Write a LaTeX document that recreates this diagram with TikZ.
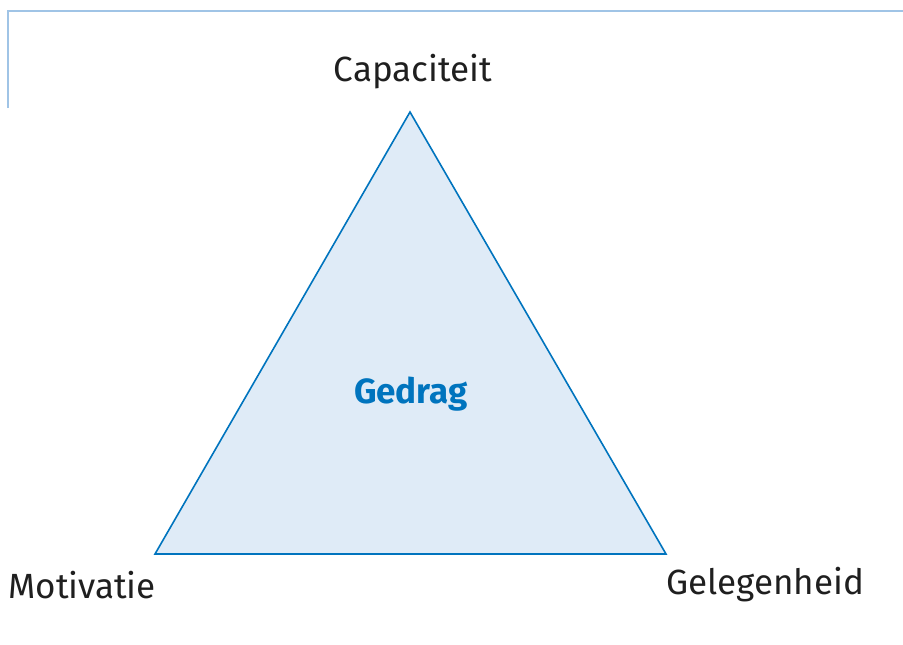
\documentclass[tikz,border=0pt]{standalone}
\usepackage{fontspec}
\setmainfont{Fira Sans}
\usepackage{xcolor}
\definecolor{framelijn}{RGB}{160,196,230}
\definecolor{rijksblauw}{RGB}{0,116,190}
\definecolor{vlak}{RGB}{223,235,247}

\begin{document}
\begin{tikzpicture}[x=0.5pt,y=-0.5pt]
        \useasboundingbox (0,0) rectangle (903,644);
        \tikzset{hoek/.style={font=\fontsize{17.5}{21}\selectfont,text=black!88,inner sep=0pt}}
        \draw[framelijn,line width=1pt] (8,108) -- (8,11) -- (903,11);
        \coordinate (top) at (410,112);
        \coordinate (links) at (155,554);
        \coordinate (rechts) at (666,554);
        \draw[rijksblauw,fill=vlak,line width=0.8pt,line join=miter] (top) -- (links) -- (rechts) -- cycle;
        \node[hoek] (capaciteit) at (413,72) {Capaciteit};
        \node[hoek,anchor=west] (motivatie) at (8,585) {Motivatie};
        \node[hoek,anchor=west] (gelegenheid) at (666,585) {Gelegenheid};
        \node[font=\fontsize{17.5}{21}\selectfont\bfseries,text=rijksblauw] (gedrag) at (411,394) {Gedrag};
    \end{tikzpicture}
\end{document}
